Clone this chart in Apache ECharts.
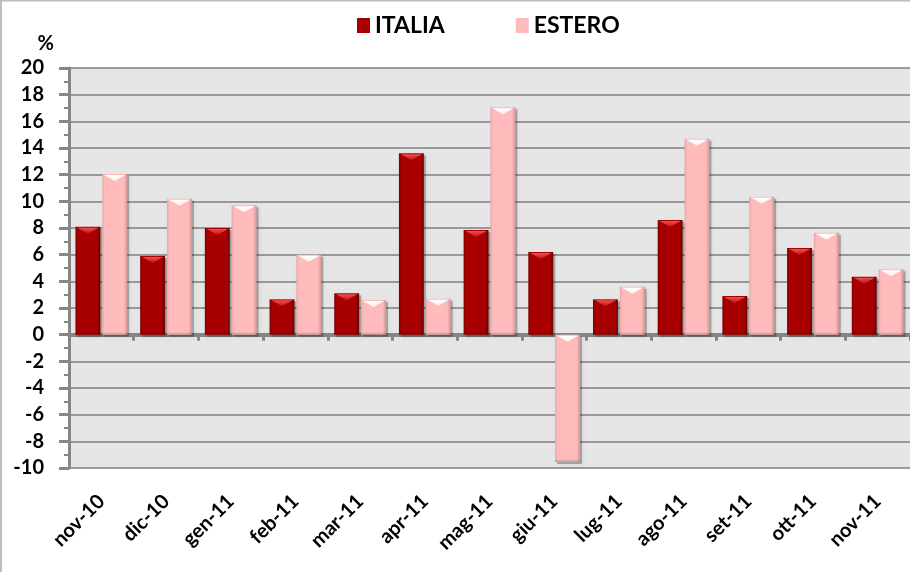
<!DOCTYPE html>
<html>
<head>
<meta charset="utf-8">
<script src="https://cdn.jsdelivr.net/npm/echarts@6/dist/echarts.min.js"></script>
<style>
html,body{margin:0;padding:0;background:#fff;}
#chart{width:910px;height:572px;}
</style>
</head>
<body>
<div id="chart"></div>
<script>
const categories = ['nov-10','dic-10','gen-11','feb-11','mar-11','apr-11','mag-11','giu-11','lug-11','ago-11','set-11','ott-11','nov-11'];
const italia = [8.1, 5.9, 8.0, 2.65, 3.1, 13.6, 7.85, 6.2, 2.65, 8.6, 2.9, 6.5, 4.35];
const estero = [12.05, 10.2, 9.7, 6.0, 2.6, 2.7, 17.05, -9.55, 3.6, 14.7, 10.35, 7.65, 4.9];
const seriesNames = ['ITALIA', 'ESTERO'];
const yMin = -10, yMax = 20, yStep = 2;

const FONT = 'Lato, "Open Sans", sans-serif';

const palettes = [
  {body:'#A80000', edgeL:'#7a0000', edgeR:'#6a0000', tri:'#f05050', tri2:'#c01010', legend:'#A80000'},
  {body:'#FFBBBB', edgeL:'#eaa6a6', edgeR:'#d99494', tri:'#ffffff', tri2:'#fff0f0', legend:'#FFBBBB'}
];

function makeRender(sIdx){
  const pal = palettes[sIdx];
  return function(params, api){
    const i = api.value(0), v = api.value(1);
    const p0 = api.coord([i, 0]);
    const p1 = api.coord([i, v]);
    const band = api.size([1, 0])[0];
    const w = band * 0.385;
    const gap = band * 0.03;
    const x = sIdx === 0 ? p0[0] - gap/2 - w : p0[0] + gap/2;
    const yTop = Math.min(p0[1], p1[1]);
    const h = Math.abs(p1[1] - p0[1]);
    const triH = Math.min(7, h);
    return {
      type: 'group',
      children: [
        {type:'rect', shape:{x:x+2, y:yTop+2, width:w, height:h},
         style:{fill:'rgba(0,0,0,0.25)', shadowBlur:4, shadowColor:'rgba(0,0,0,0.35)'}, silent:true},
        {type:'rect', shape:{x:x, y:yTop, width:w, height:h},
         style:{fill:new echarts.graphic.LinearGradient(0,0,1,0,[
           {offset:0, color:pal.edgeL},{offset:0.1, color:pal.body},
           {offset:0.86, color:pal.body},{offset:1, color:pal.edgeR}])}},
        {type:'polygon', shape:{points:[[x+2, yTop+1],[x+w-2, yTop+1],[x+w/2, yTop+triH]]},
         style:{fill:new echarts.graphic.LinearGradient(0,0,0,1,[
           {offset:0, color:pal.tri},{offset:1, color:pal.tri2}])}},
        {type:'rect', shape:{x:x, y:yTop+h-2, width:w, height:2},
         style:{fill:'rgba(0,0,0,0.12)'}}
      ]
    };
  };
}

const chart = echarts.init(document.getElementById('chart'));
chart.setOption({
  animation: false,
  backgroundColor: '#ffffff',
  graphic: [{type:'rect', shape:{x:1, y:0.5, width:1200, height:1200}, style:{fill:'none', stroke:'#bdbdbd', lineWidth:2}, z:100}],
  legend: {
    left: 352, top: 9,
    itemWidth: 13, itemHeight: 15, itemGap: 71,
    icon: 'rect',
    textStyle: {fontFamily: FONT, fontWeight: 'bold', fontSize: 23, color: '#000'},
    data: seriesNames
  },
  grid: {left: 69, top: 68, width: 847, height: 400, show: true, backgroundColor: '#E6E6E6', borderWidth: 0},
  xAxis: [
    {type:'category', data: categories, boundaryGap: true,
     axisLine:{show:true, onZero:true, lineStyle:{color:'#868686', width:4}},
     axisTick:{show:true, length:6, lineStyle:{color:'#868686', width:3}},
     axisLabel:{show:false}, splitLine:{show:false}},
    {type:'category', data: categories, boundaryGap: true, position:'bottom',
     axisLine:{show:false, onZero:false}, axisTick:{show:false},
     axisLabel:{show:true, rotate:45, margin:30, interval:0, fontFamily: FONT, fontWeight:'bold', fontSize:20, color:'#000'},
     splitLine:{show:false}}
  ],
  yAxis: {
    type:'value', min: yMin, max: yMax, interval: yStep,
    name: '%', nameLocation: 'end', nameGap: 14,
    nameTextStyle: {fontFamily: FONT, fontWeight:'bold', fontSize:20, color:'#000', align:'right', padding:[0,15,0,0]},
    axisLine:{show:true, lineStyle:{color:'#868686', width:3}},
    axisTick:{show:true, length:10, lineStyle:{color:'#868686', width:3}},
    minorTick:{show:true, splitNumber:2, length:5, lineStyle:{color:'#868686', width:2}},
    splitLine:{show:true, lineStyle:{color:'#7f7f7f', width:1.5}},
    axisLabel:{margin:25, fontFamily: FONT, fontWeight:'bold', fontSize:20, color:'#000'}
  },
  series: [
    {name: seriesNames[0], type:'custom', xAxisIndex:0, renderItem: makeRender(0),
     itemStyle:{color: palettes[0].legend}, encode:{x:0, y:1},
     data: italia.map((v,i)=>[i, v]), z: 3},
    {name: seriesNames[1], type:'custom', xAxisIndex:0, renderItem: makeRender(1),
     itemStyle:{color: palettes[1].legend}, encode:{x:0, y:1},
     data: estero.map((v,i)=>[i, v]), z: 3}
  ]
});
</script>
</body>
</html>
